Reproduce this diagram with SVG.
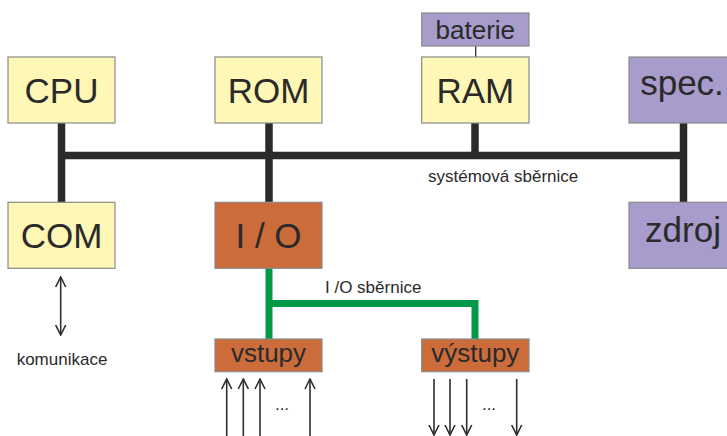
<svg xmlns="http://www.w3.org/2000/svg" width="727" height="436" viewBox="0 0 727 436">
<defs>
<marker id="ah" viewBox="0 0 12 12" refX="11" refY="6" markerWidth="12" markerHeight="12" markerUnits="userSpaceOnUse" orient="auto-start-reverse">
<path d="M1,1 L11,6 L1,11" fill="none" stroke="#2e2e2e" stroke-width="1.6"/>
</marker>
<style>
.box{stroke:#8a8a8a;stroke-width:1.2}
.y{fill:#FFF7B6}
.p{fill:#A79CCB}
.o{fill:#CC6C3B}
.big{font-family:"Liberation Sans",Arial,sans-serif;font-size:35px;fill:#2a2a2a;text-anchor:middle}
.mid{font-family:"Liberation Sans",Arial,sans-serif;font-size:26px;fill:#2a2a2a;text-anchor:middle}
.sm{font-family:"Liberation Sans",Arial,sans-serif;font-size:17px;fill:#2a2a2a}
.bus{stroke:#2b2b2b;stroke-width:7.5;fill:none}
.io{stroke:#00994A;stroke-width:7;fill:none}
.arr{stroke:#2e2e2e;stroke-width:1.6;fill:none}
</style>
</defs>
<rect width="727" height="436" fill="#ffffff"/>
<g id="connectors">
<path class="bus" d="M61.5,123 V202 M61.5,155.5 H683.5 M269,123 V202 M475,123 V155.5 M683.5,123 V202"/>
<line x1="475.7" y1="46" x2="475.7" y2="57" stroke="#333" stroke-width="1.3"/>
<path class="io" d="M269,268 V339 M269,303.5 H475 V339"/>
<line class="arr" x1="60.7" y1="277" x2="60.7" y2="335" marker-start="url(#ah)" marker-end="url(#ah)"/>
<line class="arr" x1="226.7" y1="436" x2="226.7" y2="379" marker-end="url(#ah)"/>
<line class="arr" x1="243.3" y1="436" x2="243.3" y2="379" marker-end="url(#ah)"/>
<line class="arr" x1="260" y1="436" x2="260" y2="379" marker-end="url(#ah)"/>
<line class="arr" x1="310" y1="436" x2="310" y2="379" marker-end="url(#ah)"/>
<line class="arr" x1="434" y1="379" x2="434" y2="435" marker-end="url(#ah)"/>
<line class="arr" x1="450" y1="379" x2="450" y2="435" marker-end="url(#ah)"/>
<line class="arr" x1="466.7" y1="379" x2="466.7" y2="435" marker-end="url(#ah)"/>
<line class="arr" x1="516.7" y1="379" x2="516.7" y2="435" marker-end="url(#ah)"/>
<text class="sm" x="428" y="182">systémová sběrnice</text>
<text class="sm" x="325" y="293">I /O sběrnice</text>
<text class="sm" x="62" y="365" text-anchor="middle">komunikace</text>
<text class="sm" x="282" y="410" text-anchor="middle">...</text>
<text class="sm" x="489" y="410" text-anchor="middle">...</text>
</g>
<g id="cpu"><rect class="box y" x="8" y="57" width="107" height="66"/><text class="big" x="61.5" y="103">CPU</text></g>
<g id="rom"><rect class="box y" x="215" y="57" width="107" height="66"/><text class="big" x="268.5" y="103">ROM</text></g>
<g id="ram"><rect class="box y" x="421.7" y="57" width="107.3" height="66"/><text class="big" x="475.3" y="103">RAM</text></g>
<g id="baterie"><rect class="box p" x="421.7" y="13" width="107.3" height="33"/><text class="mid" x="475.3" y="39">baterie</text></g>
<g id="spec"><rect class="box p" x="629" y="57" width="110" height="66"/><text class="big" x="682" y="95">spec.</text></g>
<g id="com"><rect class="box y" x="8" y="202.3" width="107" height="66"/><text class="big" x="61.5" y="248">COM</text></g>
<g id="io"><rect class="box o" x="215" y="202.3" width="107" height="66"/><text class="big" x="268.5" y="248">I / O</text></g>
<g id="zdroj"><rect class="box p" x="629" y="202.3" width="110" height="66"/><text class="big" x="683" y="242">zdroj</text></g>
<g id="vstupy"><rect class="box o" x="215" y="339" width="107" height="32.7"/><text class="mid" x="268.5" y="362">vstupy</text></g>
<g id="vystupy"><rect class="box o" x="421.7" y="339" width="107.3" height="32.7"/><text class="mid" x="475.3" y="362">výstupy</text></g>
</svg>
